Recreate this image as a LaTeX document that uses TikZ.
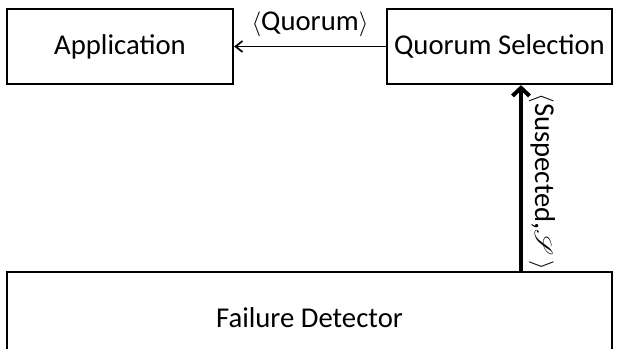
\documentclass[tikz,border=0pt]{standalone}
\usepackage{fontspec}
\setmainfont{Carlito}
\usepackage{mathrsfs}
\usetikzlibrary{arrows.meta}
\begin{document}
\begin{tikzpicture}[x=1pt,y=1pt,
  font=\fontsize{28.7}{34}\selectfont,
  block/.style={draw=black, line width=2.3pt, inner sep=0pt, minimum height=75pt},
  thinflow/.style={line width=1.7pt, -{Straight Barb[length=7pt,width=11pt]}},
  thickflow/.style={line width=4pt, -{Straight Barb[length=8pt,width=17pt]}}]
  \clip (0,0) rectangle (618,348);
  \useasboundingbox (0,0) rectangle (618,348);
  % upper row
  \node[block, minimum width=226pt] (app) at (120,301.5) {Application};
  \node[block, minimum width=225pt] (qs) at (499.5,301.5) {Quorum Selection};
  % bottom block, running past the lower edge
  \node[block, minimum width=605pt, minimum height=92pt] (fd) at (309.5,30) {Failure Detector};
  \coordinate (tap) at (521,0);
  % connectors
  \draw[thinflow] (qs.west) -- node[above=6pt] {$\langle$Quorum$\rangle$} (app.east);
  \draw[thickflow] (fd.north -| tap) -- node[pos=0.48, anchor=south, rotate=-90, inner xsep=0pt, inner ysep=6pt]
    {$\langle$Suspected,$\mathscr{S}\,\rangle$} (qs.south -| tap);
\end{tikzpicture}
\end{document}
